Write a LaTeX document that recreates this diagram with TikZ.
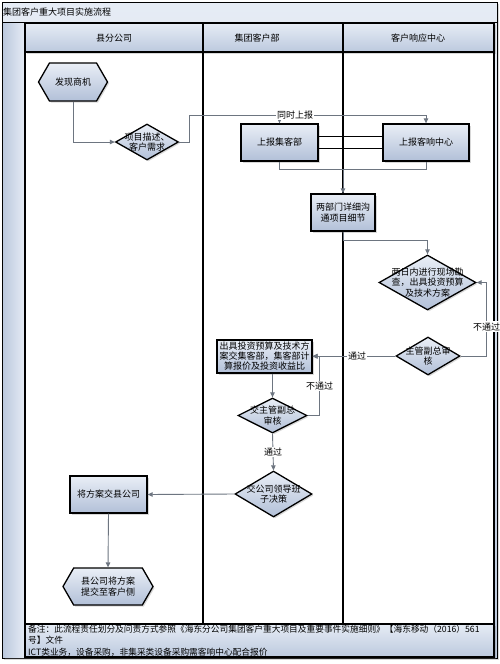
\documentclass[tikz,border=0pt]{standalone}
\usepackage{fontspec}
\setmainfont{Noto Sans CJK SC}
\usepackage{tikz}
\usetikzlibrary{arrows.meta,shapes.geometric,shapes.symbols,shadows}

\definecolor{bandtop}{HTML}{E6ECF5}
\definecolor{bandbot}{HTML}{BCC9DE}
\definecolor{boxtop}{HTML}{E9EEF6}
\definecolor{boxbot}{HTML}{B2C0D8}
\definecolor{flowgray}{HTML}{6D7580}

\begin{document}
\begin{tikzpicture}[x=1pt, y=-1pt, font=\fontsize{9}{10.5}\selectfont,
    band/.style={top color=bandtop, bottom color=bandbot},
    shade/.style={drop shadow={shadow xshift=1.5pt, shadow yshift=-1.5pt, opacity=0.3}},
    process/.style={rectangle, draw=black, line width=1.3pt, top color=boxtop, bottom color=boxbot, shade, inner sep=1pt, align=center},
    decision/.style={diamond, draw=black, line width=1.3pt, top color=boxtop, bottom color=boxbot, shade, inner sep=0pt},
    terminal/.style={signal, signal to=west and east, signal pointer angle=120, draw=black, line width=1.3pt, top color=boxtop, bottom color=boxbot, shade, inner sep=0pt, align=center},
    dtext/.style={align=center, inner sep=0pt},
    wire/.style={draw=flowgray, line width=0.9pt},
    flow/.style={wire, -{Triangle[length=5pt,width=4.5pt]}},
    tag/.style={fill=white, inner sep=1pt},
    lane/.style={line width=1.6pt}]
    \useasboundingbox (0,0) rectangle (500,664);
    % frame, title and lanes
    \shade[band, draw=black, line width=1pt] (2,2) rectangle (497,658);
    \shade[left color=bandbot, right color=bandtop] (3,23) rectangle (25,657);
    \node[anchor=west, inner sep=0pt] (title) at (3,12) {集团客户重大项目实施流程};
    \draw[line width=1pt] (2,22) -- (497,22);
    \fill[white] (25,52) rectangle (494,624);
    \shade[band] (25,23) rectangle (494,52);
    \shade[band] (25,624) rectangle (494,657);
    \draw[lane] (25,23) rectangle (494,657);
    \draw[lane] (25,52) -- (494,52);
    \draw[lane] (25,624) -- (494,624);
    \draw[lane] (203,23) -- (203,624);
    \draw[lane] (343,23) -- (343,624);
    \node (hcounty) at (114,38) {县分公司};
    \node (hgroup) at (257,38) {集团客户部};
    \node (hcenter) at (418,38) {客户响应中心};

    % steps
    \node[terminal, minimum width=69pt, minimum height=38pt] (opp) at (73,82) {发现商机};
    \node[decision, minimum width=63pt, minimum height=36pt, label={[dtext]center:{项目描述、\\客户需求}}] (req) at (147,142) {};
    \node[process, minimum width=77pt, minimum height=37pt] (jbd) at (279.5,142.5) {上报集客部};
    \node[process, minimum width=86pt, minimum height=37pt] (crc) at (426,142.5) {上报客响中心};
    \node[process, minimum width=64pt, minimum height=37pt] (comm) at (343,212.5) {两部门详细沟\\通项目细节};
    \node[decision, minimum width=97pt, minimum height=55pt, label={[dtext]center:{两日内进行现场勘\\查，出具投资预算\\及技术方案}}] (survey) at (427.5,282.5) {};
    \node[decision, minimum width=64pt, minimum height=38pt, label={[dtext]center:{主管副总审\\核}}] (appr) at (428,356) {};
    \node[process, minimum width=95pt, minimum height=33pt, font=\fontsize{9}{10}\selectfont] (calc) at (264.5,356.5) {出具投资预算及技术方\\案交集客部，集客部计\\算报价及投资收益比};
    \node[decision, minimum width=69pt, minimum height=35pt, label={[dtext]center:{交主管副总\\审核}}] (check) at (272.5,415.5) {};
    \node[decision, minimum width=77pt, minimum height=46pt, label={[dtext]center:{交公司领导班\\子决策}}] (lead) at (273.5,494) {};
    \node[process, minimum width=77pt, minimum height=37pt] (give) at (108.5,494.5) {将方案交县公司};
    \node[terminal, minimum width=90pt, minimum height=37pt] (submit) at (108,586.5) {县公司将方案\\提交至客户侧};

    % connectors
    \draw[flow] (opp.south) |- (req.west);
    \draw[flow] (req.east) -- ++(10,0) |- (crc.north |- 0,115) -- (crc.north);
    \draw[flow] (jbd.north |- 0,115) -- (jbd.north);
    \node[tag] (simul) at (295,115) {同时上报};
    \draw[line width=1.8pt] ([yshift=6pt]jbd.east) -- ([yshift=6pt]jbd.east -| crc.west);
    \draw[line width=1.8pt] ([yshift=-6pt]jbd.east) -- ([yshift=-6pt]jbd.east -| crc.west);
    \draw[wire] (jbd.south) -- ++(0,8) -| (crc.south);
    \draw[flow] (comm.north |- 0,169) -- (comm.north);
    \draw[flow] (comm.south) -- ++(0,9) -| (survey.north);
    \draw[flow] (appr.east) -- ++(26,0) |- (survey.east) node[tag, pos=0.2] (fail1) {不通过};
    \draw[flow] (appr.west) -- (appr.west -| calc.east);
    \node[tag] (pass1) at (357,356) {通过};
    \draw[flow] (calc.south -| check.north) -- (check.north);
    \draw[flow] (check.east) -- ++(12,0) |- (calc.east) node[tag, pos=0.25] (fail2) {不通过};
    \draw[flow] (check.south) -- (lead.north) node[tag, midway] (pass2) {通过};
    \draw[flow] (lead.west) -- (give.east);
    \draw[flow] (give.south) -- (submit.north);

    % note
    \node[anchor=north west, align=left, inner sep=0pt, font=\fontsize{8.7}{11.5}\selectfont] (note) at (28,624.5)
        {备注：此流程责任划分及问责方式参照《海东分公司集团客户重大项目及重要事件实施细则》【海东移动（2016）561\\号】文件\\ICT类业务，设备采购，非集采类设备采购需客响中心配合报价};
\end{tikzpicture}
\end{document}
